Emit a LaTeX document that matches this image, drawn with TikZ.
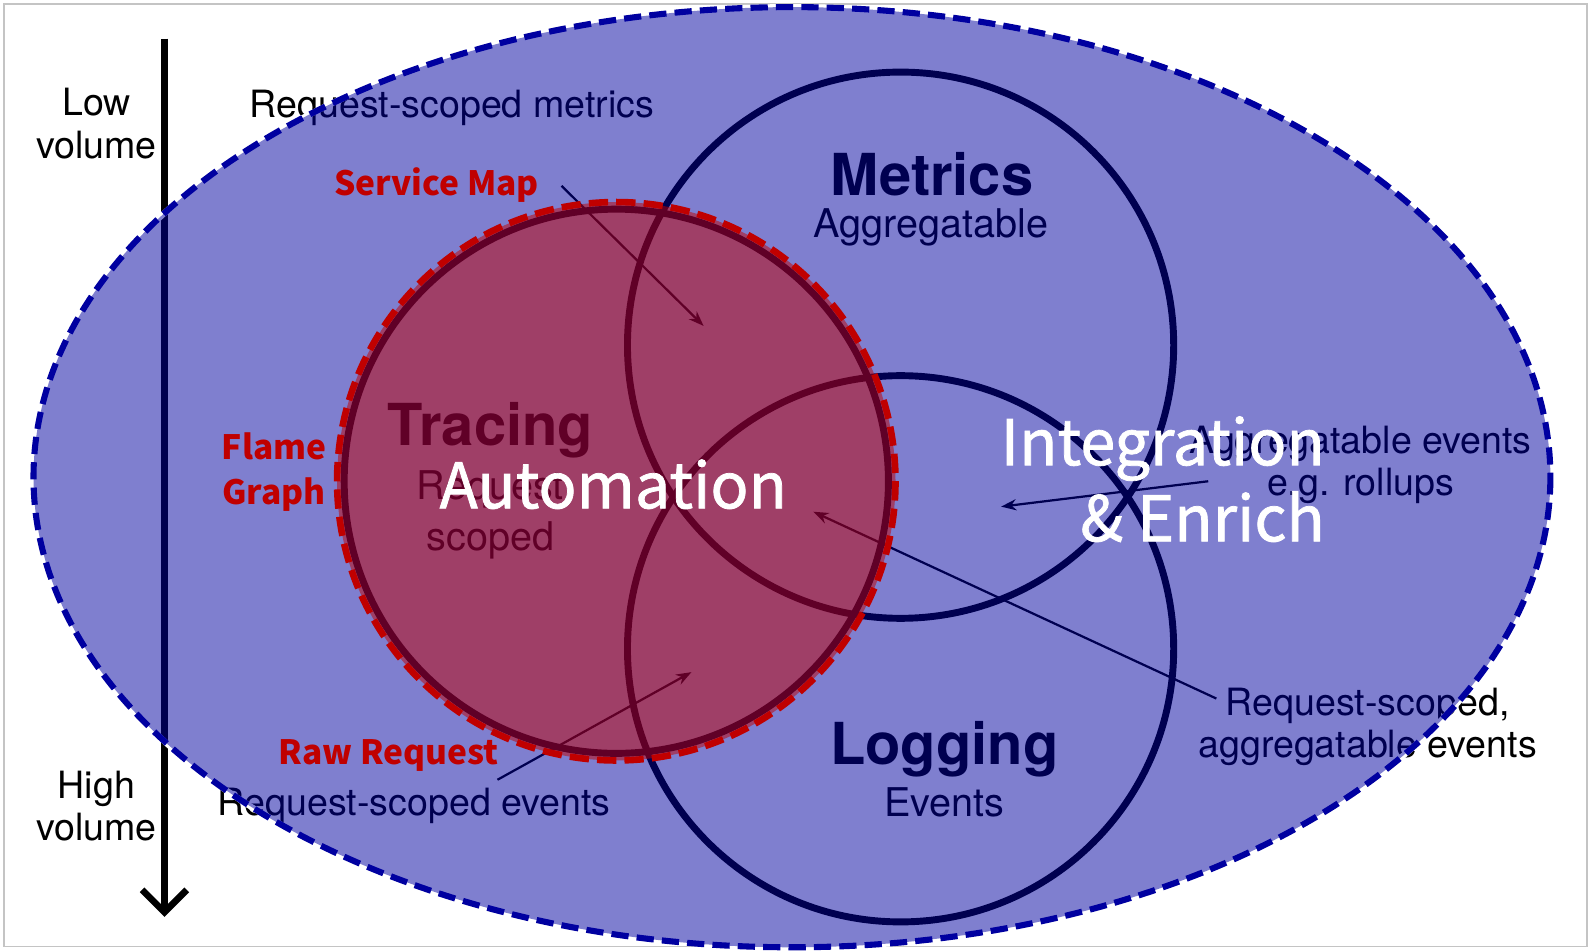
\documentclass[tikz,border=0pt]{standalone}
\usepackage{fontspec}
\setmainfont{TeX Gyre Heros}
\newfontfamily\cjkfont{Noto Sans CJK SC}
\newfontfamily\cjkheavy[FakeBold=1.2]{Noto Sans CJK SC}
\usepackage{tikz}
\usetikzlibrary{arrows.meta}
\definecolor{veilblue}{RGB}{0,0,160}
\definecolor{veilred}{RGB}{192,0,0}
\definecolor{framegrey}{RGB}{196,196,196}

\begin{document}
\begin{tikzpicture}%
        [x=1pt, y=-1pt,
        ring/.style={draw=black, line width=6.8pt},
        pointer/.style={draw=black, line width=2.2pt, -{Stealth[length=15pt,width=11pt]}},
        note/.style={inner sep=0pt, align=center, font=\fontsize{37}{42}\selectfont},
        title/.style={inner sep=0pt, font=\bfseries\fontsize{57}{60}\selectfont},
        subtitle/.style={inner sep=0pt, align=center, font=\fontsize{39}{50}\selectfont},
        redlabel/.style={inner sep=0pt, align=center, text=veilred, font=\cjkfont\bfseries\fontsize{33}{44}\selectfont},
        whitelabel/.style={inner sep=0pt, align=right, text=white, font=\cjkheavy\fontsize{62}{75}\selectfont},
        outerveil/.style={fill=veilblue, fill opacity=0.5, draw=veilblue, line width=6pt, dash pattern=on 17pt off 8pt},
        innerveil/.style={fill=veilred, fill opacity=0.5, draw=veilred, line width=6.5pt, dash pattern=on 19pt off 8pt}]
    %
    %% Frame of the page
    \useasboundingbox (0,0) rectangle (1568,936);
    \draw[framegrey, line width=1.5pt, fill=white] (4,4) rectangle (1563,932);
    %
    %% Centres of the rings
    \coordinate (tracing) at (607,474);
    \coordinate (metrics) at (887,340);
    \coordinate (logging) at (887,639);
    \coordinate (whole) at (780,470);
    %
    %% Volume axis
    \coordinate (low) at (162,38);
    \coordinate (high) at (162,903);
    \draw[line width=6pt, -{Straight Barb[length=22pt,width=44pt,line width=6.5pt]}] (low) -- (high);
    \node[note] (lowvolume) at (95,122) {Low\\volume};
    \node[note] (highvolume) at (95,794) {High\\volume};
    %
    %% The three rings
    \draw[ring] (metrics) circle (269);
    \draw[ring] (logging) circle (269);
    \draw[ring] (tracing) circle (268);
    %
    \node[title] (metricstitle) at (918,172) {Metrics};
    \node[subtitle] (metricssub) at (917,224) {Aggregatable};
    \node[title] (loggingtitle) at (930,738) {Logging};
    \node[subtitle] (loggingsub) at (930,790) {Events};
    \node[title] (tracingtitle) at (483,424) {Tracing};
    \node[subtitle] (tracingsub) at (483,507) {Request\\scoped};
    %
    %% Notes and their pointers
    \node[note] (scopedmetrics) at (445,106) {Request-scoped metrics};
    \node[note] (scopedevents) at (408,794) {Request-scoped events};
    \node[note] (aggevents) at (1340,458) {Aggregatable events\\e.g. rollups};
    \node[note] (scopedagg) at (1347,716) {Request-scoped,\\aggregatable events};
    %
    \coordinate (metricstail) at (553,183);
    \coordinate (metricshead) at (693,321);
    \coordinate (eventstail) at (490,768);
    \coordinate (eventshead) at (681,662);
    \coordinate (rollupstail) at (1190,474);
    \coordinate (rollupshead) at (986,499);
    \coordinate (scopedaggtail) at (1198,688);
    \coordinate (scopedagghead) at (801,504);
    \draw[pointer] (metricstail) -- (metricshead);
    \draw[pointer] (eventstail) -- (eventshead);
    \draw[pointer] (rollupstail) -- (rollupshead);
    \draw[pointer] (scopedaggtail) -- (scopedagghead);
    %
    %% Blue veil over everything
    \draw[white, line width=6pt] (whole) ellipse (747 and 463);
    \draw[outerveil] (whole) ellipse (747 and 463);
    %
    %% Red veil over the tracing ring
    \draw[innerveil] (tracing) circle (275);
    %
    %% Red labels
    \node[redlabel] (servicemap) at (430,182) {Service Map};
    \node[redlabel] (flamegraph) at (270,465) {Flame\\Graph};
    \node[redlabel] (rawrequest) at (383,744) {Raw Request};
    %
    %% White labels
    \node[whitelabel] (automation) at (604,477) {Automation};
    \node[whitelabel, anchor=east] (integration) at (1305,472) {Integration\\\& Enrich};
\end{tikzpicture}
\end{document}
